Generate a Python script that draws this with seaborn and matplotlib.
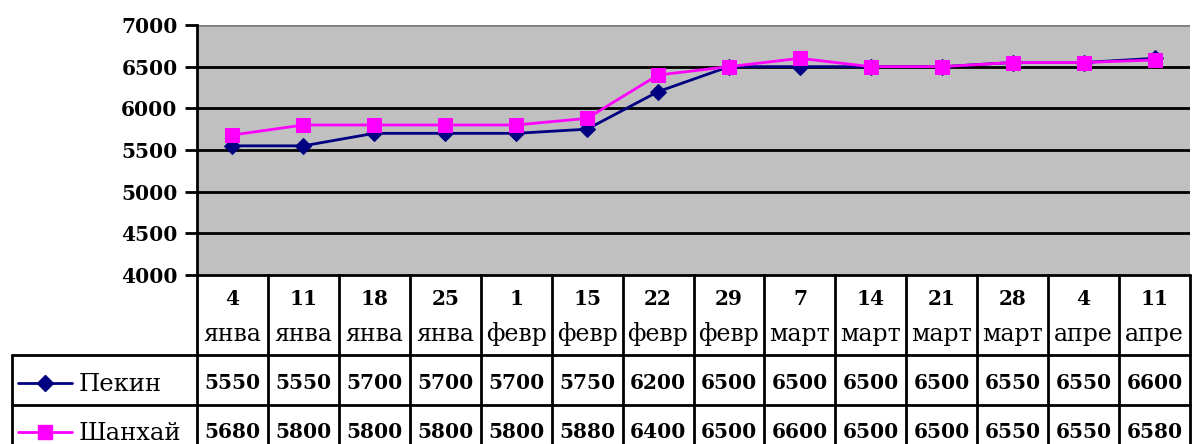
import numpy as np
import pandas as pd
import matplotlib
matplotlib.use("Agg")
import matplotlib.pyplot as plt
import matplotlib.transforms as mtransforms
from matplotlib.lines import Line2D
import seaborn as sns

sns.set_style("white")
plt.rcParams['font.family'] = ['DejaVu Serif']
plt.rcParams['text.color'] = 'black'
plt.rcParams['ytick.color'] = 'black'

days = ["4", "11", "18", "25", "1", "15", "22", "29", "7", "14", "21", "28", "4", "11"]
months = ["янва", "янва", "янва", "янва", "февр", "февр", "февр", "февр",
          "март", "март", "март", "март", "апре", "апре"]
beijing = [5550, 5550, 5700, 5700, 5700, 5750, 6200, 6500, 6500, 6500, 6500, 6550, 6550, 6600]
shanghai = [5680, 5800, 5800, 5800, 5800, 5880, 6400, 6500, 6600, 6500, 6500, 6550, 6550, 6580]
series_names = ["Пекин", "Шанхай"]
colors = {"Пекин": "#000080", "Шанхай": "#FF00FF"}
markers = {"Пекин": "D", "Шанхай": "s"}

pos = np.arange(len(days))
df = pd.concat([
    pd.DataFrame({"pos": pos, "value": beijing, "city": "Пекин"}),
    pd.DataFrame({"pos": pos, "value": shanghai, "city": "Шанхай"}),
])

W, H = 1192, 444
fig = plt.figure(figsize=(W / 100, H / 100), dpi=100)

x0, x1, y_top, y_bot = 197, 1190, 25, 275
ax = fig.add_axes([x0 / W, 1 - y_bot / H, (x1 - x0) / W, (y_bot - y_top) / H])
ax.set_facecolor("#C0C0C0")

for v in range(4500, 7001, 500):
    ax.axhline(v, color="#808080" if v == 7000 else "black", lw=2, zorder=1)

for name in series_names:
    sub = df[df.city == name]
    sns.lineplot(data=sub, x="pos", y="value", ax=ax, color=colors[name],
                 marker=markers[name], markersize=10.5 if name == "Шанхай" else 8.5,
                 markeredgecolor=colors[name], lw=2, zorder=3, legend=False)

ax.set_xlim(-0.5, len(days) - 0.5)
ax.set_ylim(4000, 7000)
ax.set_yticks(range(4000, 7001, 500))
ax.set_yticklabels([str(v) for v in range(4000, 7001, 500)],
                   fontweight="bold", fontsize=14.5)
ax.set_xticks([])
ax.set_xlabel("")
ax.set_ylabel("")
ax.tick_params(axis="y", direction="out", length=9, width=2, pad=5, left=True)
for s in ["top", "right", "bottom"]:
    ax.spines[s].set_visible(False)
ax.spines["left"].set_linewidth(2)
ax.spines["left"].set_color("black")

# data table below the plot
ov = fig.add_axes([0, 0, 1, 1], facecolor="none")
ov.set_xlim(0, W)
ov.set_ylim(H, 0)
ov.axis("off")
tr = mtransforms.blended_transform_factory(ax.transData, ov.transData)

lk = dict(color="black", lw=2, clip_on=False)
row_hdr, row1, row2, row_end = 275, 355, 405, 460
ov.plot([x0, x1], [row_hdr, row_hdr], **lk)
ov.plot([12, x1], [row1, row1], **lk)
ov.plot([12, x1], [row2, row2], **lk)
ov.plot([12, 12], [row1, row_end], **lk)
for e in np.arange(len(days) + 1) - 0.5:
    ov.plot([e, e], [row_hdr, row_end], transform=tr, **lk)

for i in pos:
    ov.text(i, 299, days[i], transform=tr, ha="center", va="center",
            fontsize=14.5, fontweight="bold")
    ov.text(i, 334, months[i], transform=tr, ha="center", va="center", fontsize=17)
    ov.text(i, 383, str(beijing[i]), transform=tr, ha="center", va="center",
            fontsize=14.5, fontweight="bold")
    ov.text(i, 432, str(shanghai[i]), transform=tr, ha="center", va="center",
            fontsize=14.5, fontweight="bold")

for name, yy in zip(series_names, [383, 432]):
    ov.add_line(Line2D([18, 72], [yy, yy], color=colors[name], lw=2))
    ov.add_line(Line2D([45], [yy], color=colors[name], marker=markers[name],
                       markersize=10 if name == "Шанхай" else 8))
    ov.text(79, yy + 1, name, ha="left", va="center", fontsize=17.5)

fig.savefig("out.png", dpi=100)
